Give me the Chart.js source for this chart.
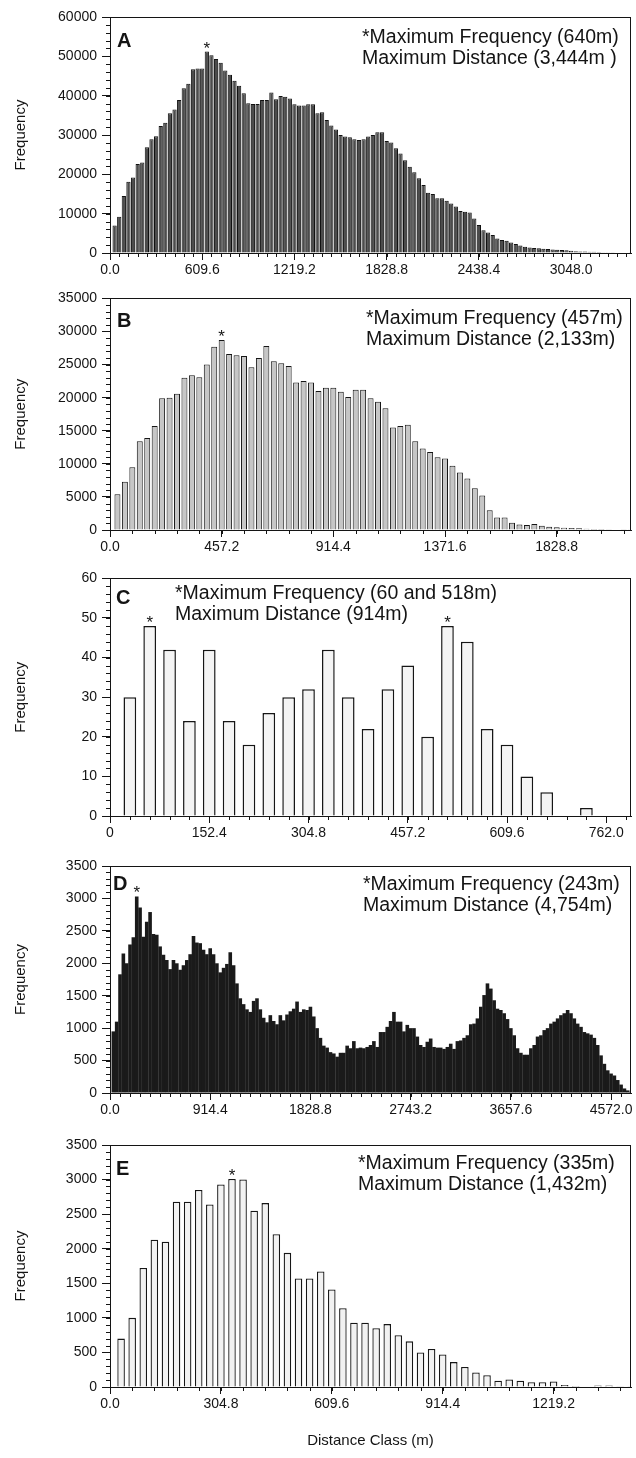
<!DOCTYPE html>
<html>
<head>
<meta charset="utf-8">
<script src="https://cdn.jsdelivr.net/npm/chart.js@4.4.0/dist/chart.umd.min.js"></script>
<style>
html,body{margin:0;padding:0;background:#fff;}
#wrap{position:relative;width:636px;height:1458px;overflow:hidden;background:#fff;}
canvas{position:absolute;left:0;}
</style>
</head>
<body>
<div id="wrap">
<canvas id="cA"></canvas>
<canvas id="cB"></canvas>
<canvas id="cC"></canvas>
<canvas id="cD"></canvas>
<canvas id="cE"></canvas>
</div>
<script>
// ---------------- DATA ----------------
const binWidth = 30.48; // distance class width (m); class k is centred at k*binWidth

// Panel A
const freqA = [7000, 9200, 14500, 18100, 19200, 22600, 23000, 26900, 28900, 29700,
  32300, 33100, 35500, 36500, 38900, 41900, 43000, 46700, 46900, 46900,
  51200, 50300, 49300, 48400, 46400, 45300, 43800, 42500, 40600, 38100,
  37900, 37900, 38900, 38900, 40800, 39100, 39900, 39700, 39300, 37800,
  37500, 37500, 37800, 37800, 35500, 35800, 33800, 32400, 31400, 30000,
  29600, 29400, 28900, 28700, 28900, 29600, 30000, 30700, 30700, 28500,
  28100, 26600, 25300, 23600, 21900, 20500, 19000, 17300, 15300, 15000,
  13900, 13900, 13300, 12600, 11800, 10700, 10500, 10300, 8800, 7100,
  5800, 5200, 4600, 3700, 3300, 3100, 2700, 2300, 1900, 1600,
  1400, 1300, 1200, 1100, 1000, 900, 850, 750, 700, 600,
  450, 400, 350, 320, 300, 250, 220, 200, 180, 150, 120, 100, 80];
const xLabelsA = ['0.0', '609.6', '1219.2', '1828.8', '2438.4', '3048.0'];
const yTicksA = [0, 10000, 20000, 30000, 40000, 50000, 60000];
const textA = ['*Maximum Frequency (640m)', 'Maximum Distance (3,444m )'];
const peaksA = [640];
const xMaxA = 3444;

// Panel B
const freqB = [5400, 7300, 9500, 13400, 13900, 15700, 19900, 20000, 20600, 23000,
  23400, 23100, 25000, 27700, 28700, 26600, 26400, 26300, 24600, 26000,
  27800, 25500, 25200, 24800, 22300, 22500, 22300, 21000, 21500, 21500,
  20900, 20100, 21200, 21200, 19900, 19400, 18400, 15500, 15700, 15900,
  13400, 12300, 11800, 11000, 10800, 9700, 8700, 7800, 6300, 5200,
  3000, 1900, 1900, 1100, 850, 750, 900, 650, 500, 400,
  350, 300, 250, 200, 150, 150, 100, 80, 50, 30];
const xLabelsB = ['0.0', '457.2', '914.4', '1371.6', '1828.8'];
const yTicksB = [0, 5000, 10000, 15000, 20000, 25000, 30000, 35000];
const textB = ['*Maximum Frequency (457m)', 'Maximum Distance (2,133m)'];
const peaksB = [457];
const xMaxB = 2133;

// Panel C
const freqC = [30, 48, 42, 24, 42, 24, 18, 26, 30, 32,
  42, 30, 22, 32, 38, 20, 48, 44, 22, 18,
  10, 6, 0, 2];
const xLabelsC = ['0', '152.4', '304.8', '457.2', '609.6', '762.0'];
const yTicksC = [0, 10, 20, 30, 40, 50, 60];
const textC = ['*Maximum Frequency (60 and 518m)', 'Maximum Distance (914m)'];
const peaksC = [60, 518];
const xMaxC = 800;

// Panel D
const freqD = [950, 1100, 1830, 2150, 2000, 2290, 2400, 3030, 2860, 2410,
  2640, 2790, 2450, 2440, 2260, 2130, 2050, 1910, 2050, 2000,
  1900, 1970, 2050, 2140, 2420, 2320, 2310, 2210, 2140, 2230,
  2140, 2000, 1860, 1930, 1990, 2170, 1970, 1690, 1460, 1370,
  1290, 1250, 1420, 1460, 1290, 1160, 1090, 1200, 1110, 1060,
  1200, 1120, 1210, 1260, 1300, 1410, 1250, 1290, 1280, 1330,
  1180, 1000, 850, 730, 700, 630, 610, 560, 620, 620,
  730, 690, 800, 690, 700, 690, 710, 740, 800, 710,
  940, 940, 1020, 1110, 1250, 1100, 1100, 950, 1050, 1000,
  1000, 870, 740, 710, 790, 840, 710, 700, 700, 680,
  710, 760, 680, 800, 810, 850, 890, 1060, 1070, 1150,
  1330, 1510, 1690, 1610, 1430, 1300, 1280, 1230, 1140, 1000,
  890, 690, 620, 590, 590, 690, 740, 870, 890, 970,
  1000, 1070, 1100, 1150, 1200, 1230, 1280, 1230, 1150, 1070,
  1020, 940, 920, 900, 850, 740, 580, 450, 350, 300,
  270, 200, 130, 70, 40, 15];
const xLabelsD = ['0.0', '914.4', '1828.8', '2743.2', '3657.6', '4572.0'];
const yTicksD = [0, 500, 1000, 1500, 2000, 2500, 3000, 3500];
const textD = ['*Maximum Frequency (243m)', 'Maximum Distance (4,754m)'];
const peaksD = [243];
const xMaxD = 4754;

// Panel E
const freqE = [700, 1000, 1720, 2130, 2100, 2680, 2680, 2850, 2640, 2930,
  3010, 3000, 2550, 2660, 2210, 1940, 1570, 1570, 1670, 1410,
  1140, 930, 930, 850, 910, 750, 660, 500, 550, 470,
  360, 290, 210, 170, 90, 110, 90, 70, 70, 80,
  30, 15, 0, 20, 20, 10, 10];
const xLabelsE = ['0.0', '304.8', '609.6', '914.4', '1219.2'];
const yTicksE = [0, 500, 1000, 1500, 2000, 2500, 3000, 3500];
const textE = ['*Maximum Frequency (335m)', 'Maximum Distance (1,432m)'];
const peaksE = [335];
const xMaxE = 1432;

const panelLetters = ['A', 'B', 'C', 'D', 'E'];
const yTitle = 'Frequency';
const xTitle = 'Distance Class (m)';

// ---------------- STYLE / LAYOUT ----------------
const INK = '#141414';
Chart.defaults.font.family = "'Liberation Sans', Arial, Helvetica, sans-serif";
Chart.defaults.font.size = 14;
Chart.defaults.color = INK;

const decorPlugin = {
  id: 'panelDecor',
  afterDraw(chart, args, o) {
    const ctx = chart.ctx, ca = chart.chartArea;
    const xs = chart.scales.x, ys = chart.scales.y;
    ctx.save();
    // frame
    ctx.strokeStyle = INK; ctx.lineWidth = 1;
    ctx.strokeRect(Math.round(ca.left) + 0.5, Math.round(ca.top) + 0.5,
      Math.round(ca.right) - Math.round(ca.left) - 1, Math.round(ca.bottom) - Math.round(ca.top));
    // minor ticks
    ctx.beginPath();
    for (let i = 0; i * o.minorX <= xs.max + 1e-6; i++) {
      const px = Math.round(xs.getPixelForValue(i * o.minorX)) + 0.5;
      ctx.moveTo(px, ca.bottom); ctx.lineTo(px, ca.bottom + 4);
    }
    for (let i = 0; i * o.minorY <= ys.max + 1e-6; i++) {
      const py = Math.round(ys.getPixelForValue(i * o.minorY)) + 0.5;
      ctx.moveTo(ca.left - 4, py); ctx.lineTo(ca.left, py);
    }
    ctx.stroke();
    // letter
    ctx.fillStyle = INK;
    ctx.textBaseline = 'alphabetic';
    ctx.textAlign = 'left';
    ctx.font = "bold 20px 'Liberation Sans', Arial, sans-serif";
    ctx.fillText(o.letter, ca.left + o.letterDx, ca.top + o.letterDy);
    // annotation
    ctx.font = "19.5px 'Liberation Sans', Arial, sans-serif";
    o.lines.forEach((t, i) => ctx.fillText(t, o.textX, ca.top + o.textDy + i * 21));
    // asterisks on peak classes
    const meta = chart.getDatasetMeta(0);
    ctx.font = "17px 'Liberation Sans', Arial, sans-serif";
    ctx.textAlign = 'center';
    o.peaks.forEach(d => {
      let best = 0, bd = Infinity;
      meta.data.forEach((el, i) => {
        const dd = Math.abs((i + 1) * binWidth - d);
        if (dd < bd) { bd = dd; best = i; }
      });
      const el = meta.data[best];
      ctx.fillText('*', el.x, el.y + 2);
    });
    ctx.restore();
  }
};

function makePanel(p) {
  const canvas = document.getElementById(p.id);
  canvas.width = 636; canvas.height = p.h;
  canvas.style.top = p.t + 'px';
  const points = p.freq.map((v, i) => ({ x: (i + 1) * binWidth, y: v }));
  const xAxisH = p.t + p.h - p.areaBottom;
  return new Chart(canvas, {
    type: 'bar',
    data: { datasets: [{
      data: points,
      backgroundColor: p.fill, borderColor: p.stroke, borderWidth: p.bw,
      barPercentage: p.barPct, categoryPercentage: 1, borderSkipped: 'start'
    }] },
    options: {
      responsive: false, animation: false, devicePixelRatio: 1,
      layout: { padding: { top: p.areaTop - p.t, right: 5, left: 0, bottom: 0 } },
      plugins: {
        legend: { display: false }, tooltip: { enabled: false },
        panelDecor: {
          letter: p.letter, letterDx: p.letterDx, letterDy: p.letterDy,
          lines: p.text, textX: p.textX, textDy: p.textDy,
          peaks: p.peaks, minorX: p.minorX, minorY: p.minorY
        }
      },
      scales: {
        x: {
          type: 'linear', min: 0, max: p.xMax, offset: false,
          grid: { offset: false, drawOnChartArea: false, drawTicks: true, tickLength: 7, color: INK, tickColor: INK },
          border: { display: true, color: INK, width: 1 },
          ticks: { autoSkip: false, maxRotation: 0, minRotation: 0, includeBounds: false, padding: 2,
            font: { size: 14 }, color: INK, callback: (v, i) => p.xLabels[i] },
          afterBuildTicks: s => { s.ticks = p.xLabels.map(l => ({ value: parseFloat(l) })); },
          afterFit: s => { s.height = xAxisH; },
          title: p.xTitle ? { display: true, text: p.xTitle, font: { size: 15 }, color: INK, padding: { top: 0, bottom: 8 } } : { display: false }
        },
        y: {
          min: 0, max: p.yTicks[p.yTicks.length - 1],
          grid: { drawOnChartArea: false, drawTicks: true, tickLength: 8, color: INK, tickColor: INK },
          border: { display: true, color: INK, width: 1 },
          ticks: { autoSkip: false, padding: 5, font: { size: 14 }, color: INK,
            callback: (v, i) => String(p.yTicks[i]) },
          afterBuildTicks: s => { s.ticks = p.yTicks.map(v => ({ value: v })); },
          afterFit: s => { s.width = 110; },
          title: { display: true, text: yTitle, font: { size: 15 }, color: INK, padding: { top: 12, bottom: 0 } }
        }
      }
    },
    plugins: [decorPlugin]
  });
}

const panels = [
  { id: 'cA', t: 0, h: 285, areaTop: 17, areaBottom: 253, freq: freqA, xLabels: xLabelsA, yTicks: yTicksA,
    text: textA, peaks: peaksA, xMax: xMaxA, letter: panelLetters[0], letterDx: 7, letterDy: 30, textX: 362, textDy: 26,
    minorX: 60.96, minorY: 2000, fill: '#4c4c4c', stroke: '#111111', bw: 1, barPct: 0.92 },
  { id: 'cB', t: 285, h: 280, areaTop: 294, areaBottom: 530, freq: freqB, xLabels: xLabelsB, yTicks: yTicksB,
    text: textB, peaks: peaksB, xMax: xMaxB, letter: panelLetters[1], letterDx: 7, letterDy: 29, textX: 366, textDy: 26,
    minorX: 91.44, minorY: 1000, fill: '#c6c6c6', stroke: '#161616', bw: 1, barPct: 0.8 },
  { id: 'cC', t: 565, h: 285, areaTop: 577, areaBottom: 816, freq: freqC, xLabels: xLabelsC, yTicks: yTicksC,
    text: textC, peaks: peaksC, xMax: xMaxC, letter: panelLetters[2], letterDx: 6, letterDy: 26, textX: 175, textDy: 21,
    minorX: 30.48, minorY: 2, fill: '#f4f4f4', stroke: '#161616', bw: 1.5, barPct: 0.64 },
  { id: 'cD', t: 850, h: 280, areaTop: 866, areaBottom: 1093, freq: freqD, xLabels: xLabelsD, yTicks: yTicksD,
    text: textD, peaks: peaksD, xMax: xMaxD, letter: panelLetters[3], letterDx: 3, letterDy: 24, textX: 363, textDy: 24,
    minorX: 91.44, minorY: 100, fill: '#1a1a1a', stroke: '#1a1a1a', bw: 0, barPct: 1.08 },
  { id: 'cE', t: 1130, h: 328, areaTop: 1145, areaBottom: 1387, freq: freqE, xLabels: xLabelsE, yTicks: yTicksE,
    text: textE, peaks: peaksE, xMax: xMaxE, letter: panelLetters[4], letterDx: 6, letterDy: 30, textX: 358, textDy: 24,
    minorX: 60.96, minorY: 100, fill: '#f2f2f2', stroke: '#161616', bw: 1.3, barPct: 0.68, xTitle: xTitle }
];

panels.forEach(makePanel);
</script>
</body>
</html>
